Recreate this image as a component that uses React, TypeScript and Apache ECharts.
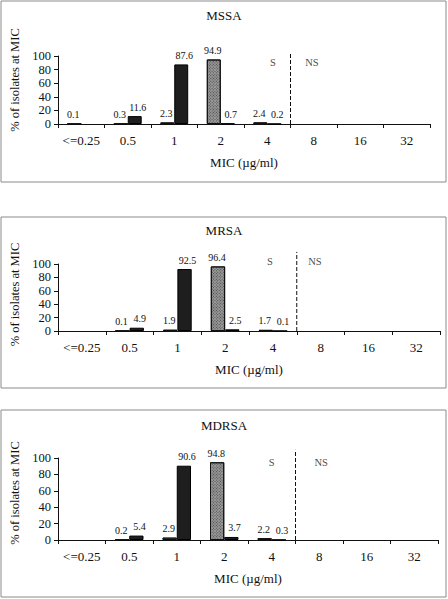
import React, { useEffect, useRef } from "react";
import * as echarts from "echarts";

const categories = ["<=0.25", "0.5", "1", "2", "4", "8", "16", "32"];
const panelTitles = ["MSSA", "MRSA", "MDRSA"];

const mssaHatched = [0.1, 0.3, 2.3, 94.9, 2.4, null, null, null];
const mssaDark = [null, 11.6, 87.6, 0.7, 0.2, null, null, null];
const mrsaHatched = [null, 0.1, 1.9, 96.4, 1.7, null, null, null];
const mrsaDark = [null, 4.9, 92.5, 2.5, 0.1, null, null, null];
const mdrsaHatched = [null, 0.2, 2.9, 94.8, 2.2, null, null, null];
const mdrsaDark = [null, 5.4, 90.6, 3.7, 0.3, null, null, null];

const yTicks = [0, 20, 40, 60, 80, 100];
const breakpoint = 5; // boundary between "4" and "8" on the 0..8 band scale

const FONT = "'Liberation Serif', 'Times New Roman', serif";

const panels = [
  {
    hatched: mssaHatched, dark: mssaDark,
    grid: { left: 58, top: 56, width: 372, height: 68 },
    box: { x: 1, y: 1, w: 445, h: 181 },
    titleTop: 9, lineTop: 104, sX: 4.62, nsX: 5.46, labelY: 91, namePad: 20,
  },
  {
    hatched: mrsaHatched, dark: mrsaDark,
    grid: { left: 58, top: 264, width: 382, height: 67 },
    box: { x: 1, y: 217, w: 445, h: 171 },
    titleTop: 224, lineTop: 118, sX: 4.44, nsX: 5.38, labelY: 103, namePad: 6,
  },
  {
    hatched: mdrsaHatched, dark: mdrsaDark,
    grid: { left: 58, top: 458, width: 380, height: 82 },
    box: { x: 1, y: 410, w: 445, h: 187 },
    titleTop: 419, lineTop: 110, sX: 4.5, nsX: 5.54, labelY: 94, namePad: 12,
  },
];

export default function App() {
  const ref = useRef<HTMLDivElement>(null);
  useEffect(() => {
    if (!ref.current) return;
    const chart = echarts.init(ref.current, undefined, { renderer: "svg" });
    const labelStyle = {
      show: true,
      position: "top",
      distance: 4,
      fontSize: 10,
      fontFamily: FONT,
      color: "#111",
    };
    const series: any[] = [];
    panels.forEach((p, i) => {
      series.push({
        type: "bar",
        xAxisIndex: i,
        yAxisIndex: i,
        data: p.hatched,
        barGap: "0%",
        barCategoryGap: "40%",
        itemStyle: {
          color: "#999999",
          borderColor: "#111",
          borderWidth: 1,
          decal: {
            symbol: "rect",
            symbolSize: 1,
            color: "rgba(20,20,20,0.6)",
            dashArrayX: [1, 1],
            dashArrayY: [1, 1],
            rotation: Math.PI / 4,
          },
        },
        label: { ...labelStyle, offset: [-1, 0] },
      });
      series.push({
        type: "bar",
        xAxisIndex: i,
        yAxisIndex: i,
        data: p.dark,
        barGap: "0%",
        barCategoryGap: "40%",
        itemStyle: { color: "#1e1e1e", borderColor: "#000", borderWidth: 1 },
        label: { ...labelStyle, offset: [3, 0] },
      });
      series.push({
        type: "line",
        xAxisIndex: 3 + i,
        yAxisIndex: i,
        data: [
          [breakpoint, 0],
          [breakpoint, p.lineTop],
        ],
        symbol: "none",
        clip: false,
        silent: true,
        lineStyle: { color: "#111", width: 1, type: [4, 2] },
      });
      series.push({
        type: "scatter",
        xAxisIndex: 3 + i,
        yAxisIndex: i,
        symbolSize: 0,
        clip: false,
        silent: true,
        data: [
          [p.sX, p.labelY, "S"],
          [p.nsX, p.labelY, "NS"],
        ],
        label: {
          show: true,
          position: "inside",
          fontSize: 10.5,
          fontFamily: FONT,
          color: "#111",
          formatter: (d: any) => d.value[2],
        },
      });
    });

    const option: any = {
      animation: false,
      backgroundColor: "#fff",
      title: panels.map((p, i) => ({
        text: panelTitles[i],
        left: 224,
        top: p.titleTop,
        textAlign: "center",
        padding: 0,
        textStyle: { fontSize: 13, fontWeight: "normal", fontFamily: FONT, color: "#111" },
      })),
      graphic: panels.map((p) => ({
        type: "rect",
        shape: { x: p.box.x, y: p.box.y, width: p.box.w, height: p.box.h },
        style: { fill: "none", stroke: "#8a8a8a", lineWidth: 1 },
        silent: true,
      })),
      grid: panels.map((p) => ({ ...p.grid })),
      xAxis: [
        ...panels.map((p, i) => ({
          type: "category",
          gridIndex: i,
          data: categories,
          name: "MIC (µg/ml)",
          nameLocation: "middle",
          nameGap: 32,
          nameTextStyle: { fontSize: 13, fontFamily: FONT, color: "#111" },
          axisLine: { lineStyle: { color: "#111", width: 1 } },
          axisTick: { show: true, length: 4, lineStyle: { color: "#111" } },
          axisLabel: { fontSize: 13, fontFamily: FONT, color: "#111", margin: 10, interval: 0 },
          splitLine: { show: false },
        })),
        ...panels.map((p, i) => ({
          type: "value",
          gridIndex: i,
          min: 0,
          max: categories.length,
          show: false,
        })),
      ],
      yAxis: panels.map((p, i) => ({
        type: "value",
        gridIndex: i,
        min: yTicks[0],
        max: yTicks[yTicks.length - 1],
        interval: yTicks[1] - yTicks[0],
        name: "% of isolates at MIC",
        nameLocation: "middle",
        nameGap: 34,
        nameTextStyle: {
          fontSize: 12.5,
          fontFamily: FONT,
          color: "#111",
          padding: [0, 0, 0, p.namePad],
        },
        axisLine: { show: true, lineStyle: { color: "#111", width: 1 } },
        axisTick: { show: true, length: 4, lineStyle: { color: "#111" } },
        axisLabel: { fontSize: 12.5, lineHeight: 12, fontFamily: FONT, color: "#111", margin: 7 },
        splitLine: { show: false },
      })),
      series,
    };
    chart.setOption(option);
    return () => chart.dispose();
  }, []);
  return (
    <div
      ref={ref}
      style={{ position: "absolute", left: 0, top: 0, width: 448, height: 599, background: "#fff" }}
    />
  );
}
